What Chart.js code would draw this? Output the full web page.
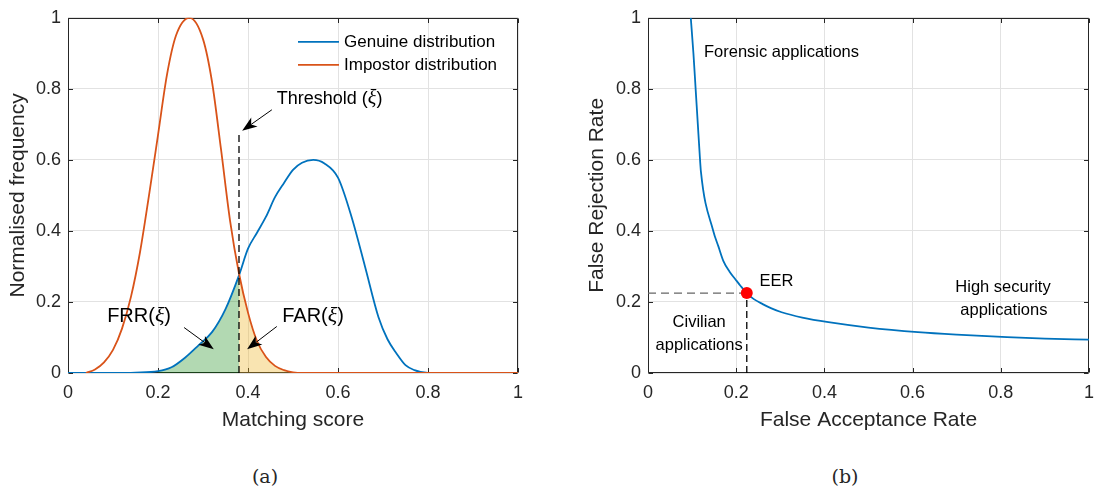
<!DOCTYPE html>
<html>
<head>
<meta charset="utf-8">
<script src="https://cdn.jsdelivr.net/npm/chart.js@4.4.1/dist/chart.umd.min.js"></script>
<style>
  html, body { margin: 0; padding: 0; background: #fff; }
  #page { position: relative; width: 1103px; height: 493px; overflow: hidden; }
  .panel { position: absolute; top: 0; height: 440px; }
  #panel-a { left: 0; width: 560px; }
  #panel-b { left: 560px; width: 543px; }
  .caption { position: absolute; top: 465px; width: 80px; line-height: 22px; text-align: center;
             font-family: "DejaVu Serif", "Liberation Serif", serif; font-size: 19px; color: #262626; }
</style>
</head>
<body>
<div id="page">
  <div class="panel" id="panel-a"><canvas id="chartA"></canvas></div>
  <div class="panel" id="panel-b"><canvas id="chartB"></canvas></div>
  <div class="caption" style="left:225px">(a)</div>
  <div class="caption" style="left:805px">(b)</div>
</div>
<script>
// (a) score distributions
const scoreGenuine = [0, 0.1, 0.15, 0.2, 0.23, 0.26, 0.29, 0.32, 0.35, 0.38, 0.4, 0.42, 0.44, 0.46, 0.48, 0.5, 0.52, 0.545, 0.57, 0.6, 0.63, 0.66, 0.69, 0.71, 0.73, 0.75, 0.77, 0.8, 1];
const freqGenuine = [0, 0, 0.001, 0.005, 0.016, 0.043, 0.078, 0.115, 0.18, 0.275, 0.35, 0.395, 0.44, 0.495, 0.535, 0.572, 0.592, 0.6, 0.59, 0.55, 0.44, 0.3, 0.157, 0.095, 0.055, 0.022, 0.008, 0, 0];
const scoreImpostor = [0.04, 0.06, 0.08, 0.1, 0.12, 0.14, 0.16, 0.18, 0.2, 0.22, 0.24, 0.27, 0.3, 0.32, 0.34, 0.36, 0.38, 0.4, 0.42, 0.44, 0.46, 0.48, 0.5, 0.52, 1];
const freqImpostor = [0, 0.01, 0.03, 0.065, 0.125, 0.215, 0.34, 0.5, 0.67, 0.84, 0.95, 1, 0.94, 0.82, 0.63, 0.43, 0.28, 0.17, 0.09, 0.045, 0.02, 0.008, 0.002, 0, 0];
const threshold = 0.38;
const thresholdTop = 0.672;
const frrStart = 0.2;

// (b) DET curve
const farValues = [0.097, 0.103, 0.108, 0.113, 0.117, 0.12, 0.148, 0.16, 0.171, 0.185, 0.198, 0.21, 0.224, 0.24, 0.26, 0.28, 0.303, 0.35, 0.409, 0.5, 0.612, 0.7, 0.814, 0.9, 1];
const frrValues = [1, 0.9, 0.8, 0.7, 0.62, 0.567, 0.4, 0.355, 0.315, 0.285, 0.264, 0.245, 0.225, 0.208, 0.194, 0.182, 0.171, 0.156, 0.143, 0.128, 0.115, 0.108, 0.101, 0.097, 0.094];
const eerFar = 0.224;
const eerFrr = 0.225;

const axisTicks = [0, 0.2, 0.4, 0.6, 0.8, 1];

const FONT = '"Liberation Sans", Arial, Helvetica, sans-serif';
const MATH_FONT = '"Liberation Serif", "DejaVu Serif", serif';
const INK = '#262626';
const GRID = '#e2e2e2';
const BLUE = '#0072BD';
const ORANGE = '#D95319';

Chart.defaults.font.family = FONT;
Chart.defaults.color = INK;
Chart.defaults.animation = false;

function points(xs, ys) {
  return xs.map((x, i) => ({ x: x, y: ys[i] }));
}

function fmtTick(v) {
  return String(Math.round(v * 10) / 10);
}

function buildScales(xTitle, yTitle, yWidth, yTitlePad) {
  return {
    x: {
      type: 'linear', min: 0, max: 1,
      afterFit: s => { s.height = 60; },
      afterBuildTicks: s => { s.ticks = axisTicks.map(v => ({ value: v })); },
      grid: { color: GRID, drawTicks: false },
      border: { display: false },
      ticks: { padding: 9, font: { size: 18 }, color: INK, callback: fmtTick, maxRotation: 0, autoSkip: false },
      title: { display: true, text: xTitle, font: { size: 21 }, color: INK, padding: { top: 0, bottom: 0 } }
    },
    y: {
      type: 'linear', min: 0, max: 1,
      afterFit: s => { s.width = yWidth; },
      afterBuildTicks: s => { s.ticks = axisTicks.map(v => ({ value: v })); },
      grid: { color: GRID, drawTicks: false },
      border: { display: false },
      ticks: { padding: 7, font: { size: 18 }, color: INK, callback: fmtTick, autoSkip: false },
      title: { display: true, text: yTitle, font: { size: 21 }, color: INK, padding: { top: yTitlePad, bottom: 0 } }
    }
  };
}

function drawFrame(chart) {
  const ctx = chart.ctx;
  const a = chart.chartArea;
  const sx = chart.scales.x, sy = chart.scales.y;
  const l = Math.round(a.left) + 0.5, r = Math.round(a.right) - 0.5;
  const t = Math.round(a.top) + 0.5, b = Math.round(a.bottom) - 0.5;
  ctx.save();
  ctx.strokeStyle = INK;
  ctx.lineWidth = 1;
  ctx.beginPath();
  ctx.rect(l, t, r - l, b - t);
  axisTicks.forEach(v => {
    const px = Math.round(sx.getPixelForValue(v)) + 0.5;
    ctx.moveTo(px, b); ctx.lineTo(px, b - 4.5);
    ctx.moveTo(px, t); ctx.lineTo(px, t + 4.5);
    const py = Math.round(sy.getPixelForValue(v)) + 0.5;
    ctx.moveTo(l, py); ctx.lineTo(l + 4.5, py);
    ctx.moveTo(r, py); ctx.lineTo(r - 4.5, py);
  });
  ctx.stroke();
  ctx.restore();
}

function drawArrow(ctx, x1, y1, x2, y2) {
  const ang = Math.atan2(y2 - y1, x2 - x1);
  const c = Math.cos(ang), s = Math.sin(ang);
  const len = 15, half = 5.5, notch = 11;
  ctx.save();
  ctx.strokeStyle = '#000';
  ctx.fillStyle = '#000';
  ctx.lineWidth = 1;
  ctx.beginPath();
  ctx.moveTo(x1, y1);
  ctx.lineTo(x2 - notch * c, y2 - notch * s);
  ctx.stroke();
  const bx = x2 - len * c, by = y2 - len * s;
  ctx.beginPath();
  ctx.moveTo(x2, y2);
  ctx.lineTo(bx + half * s, by - half * c);
  ctx.lineTo(x2 - notch * c, y2 - notch * s);
  ctx.lineTo(bx - half * s, by + half * c);
  ctx.closePath();
  ctx.fill();
  ctx.restore();
}

function drawRich(ctx, parts, x, y, align, size) {
  ctx.save();
  ctx.fillStyle = '#000';
  ctx.textBaseline = 'middle';
  ctx.textAlign = 'left';
  const fonts = parts.map(p => p[1] ? `italic ${size + 2}px ${MATH_FONT}` : `${size}px ${FONT}`);
  let total = 0;
  const widths = parts.map((p, i) => {
    ctx.font = fonts[i];
    const w = ctx.measureText(p[0]).width;
    total += w;
    return w;
  });
  let cx = align === 'center' ? x - total / 2 : x;
  parts.forEach((p, i) => {
    ctx.font = fonts[i];
    ctx.fillText(p[0], cx, y);
    cx += widths[i];
  });
  ctx.restore();
}

function drawLegend(chart, items) {
  const ctx = chart.ctx;
  const a = chart.chartArea;
  ctx.save();
  items.forEach((idx, row) => {
    const ds = chart.data.datasets[idx];
    const y = a.top + 24 + row * 23;
    ctx.strokeStyle = ds.borderColor;
    ctx.lineWidth = ds.borderWidth;
    ctx.beginPath();
    ctx.moveTo(a.right - 220, y);
    ctx.lineTo(a.right - 179, y);
    ctx.stroke();
    ctx.fillStyle = '#000';
    ctx.font = `17px ${FONT}`;
    ctx.textBaseline = 'middle';
    ctx.fillText(ds.label, a.right - 174, y + 1);
  });
  ctx.restore();
}

function makeNotes(cfg) {
  return {
    id: 'notes',
    beforeDatasetsDraw(chart) {
      drawFrame(chart);
    },
    afterDatasetsDraw(chart) {
      const sx = chart.scales.x, sy = chart.scales.y;
      (cfg.arrows || []).forEach(a => drawArrow(chart.ctx,
        sx.getPixelForValue(a.from[0]), sy.getPixelForValue(a.from[1]),
        sx.getPixelForValue(a.to[0]), sy.getPixelForValue(a.to[1])));
      (cfg.texts || []).forEach(t => drawRich(chart.ctx, t.parts,
        sx.getPixelForValue(t.x), sy.getPixelForValue(t.y), t.align || 'left', t.size));
      if (cfg.legend) drawLegend(chart, cfg.legend);
    }
  };
}

function renderDistributions() {
  const genuine = points(scoreGenuine, freqGenuine);
  const impostor = points(scoreImpostor, freqImpostor);
  const frrArea = genuine.filter(p => p.x >= frrStart && p.x <= threshold);
  const farArea = impostor.filter(p => p.x >= threshold);

  new Chart(document.getElementById('chartA'), {
    type: 'line',
    data: {
      datasets: [
        { label: 'Genuine distribution', data: genuine, borderColor: BLUE, borderWidth: 1.8, order: 3 },
        { label: 'Impostor distribution', data: impostor, borderColor: ORANGE, borderWidth: 1.8, order: 2 },
        { label: 'FRR', data: frrArea, borderWidth: 0, backgroundColor: 'rgba(0,128,0,0.3)', fill: 'origin', order: 5 },
        { label: 'FAR', data: farArea, borderWidth: 0, backgroundColor: 'rgba(237,177,32,0.35)', fill: 'origin', order: 5 },
        { label: 'Threshold', data: [{ x: threshold, y: 0 }, { x: threshold, y: thresholdTop }],
          borderColor: '#000', borderWidth: 1.3, borderDash: [7, 4], cubicInterpolationMode: 'default', tension: 0, order: 1 }
      ]
    },
    options: {
      responsive: true,
      maintainAspectRatio: false,
      events: [],
      layout: { padding: { left: 0, top: 14, right: 42, bottom: 7 } },
      elements: { point: { radius: 0 }, line: { cubicInterpolationMode: 'monotone', fill: false } },
      plugins: { legend: { display: false }, tooltip: { enabled: false } },
      scales: buildScales('Matching score', 'Normalised frequency', 68, 6)
    },
    plugins: [makeNotes({
      legend: [0, 1],
      texts: [
        { x: 0.464, y: 0.772, size: 18, parts: [['Threshold (', 0], ['ξ', 1], [')', 0]] },
        { x: 0.087, y: 0.159, size: 20, parts: [['FRR(', 0], ['ξ', 1], [')', 0]] },
        { x: 0.476, y: 0.159, size: 20, parts: [['FAR(', 0], ['ξ', 1], [')', 0]] }
      ],
      arrows: [
        { from: [0.453, 0.741], to: [0.387, 0.682] },
        { from: [0.258, 0.128], to: [0.324, 0.067] },
        { from: [0.464, 0.131], to: [0.398, 0.067] }
      ]
    })]
  });
}

function renderDet() {
  new Chart(document.getElementById('chartB'), {
    type: 'line',
    data: {
      datasets: [
        { label: 'DET', data: points(farValues, frrValues), borderColor: BLUE, borderWidth: 1.8,
          cubicInterpolationMode: 'monotone', order: 3 },
        { label: 'EER level', data: [{ x: 0, y: eerFrr }, { x: eerFar, y: eerFrr }],
          borderColor: '#666', borderWidth: 1.3, borderDash: [8, 5], order: 2 },
        { label: 'EER drop', data: [{ x: eerFar, y: 0 }, { x: eerFar, y: eerFrr }],
          borderColor: '#000', borderWidth: 1.3, borderDash: [7, 4], order: 2 },
        { label: 'EER', data: [{ x: eerFar, y: eerFrr }], showLine: false,
          pointRadius: 6, pointBackgroundColor: '#ff0000', pointBorderWidth: 0, order: 0 }
      ]
    },
    options: {
      responsive: true,
      maintainAspectRatio: false,
      events: [],
      layout: { padding: { left: 0, top: 14, right: 5, bottom: 7 } },
      elements: { point: { radius: 0 }, line: { fill: false } },
      plugins: { legend: { display: false }, tooltip: { enabled: false } },
      scales: buildScales('False Acceptance Rate', 'False Rejection Rate', 88, 25)
    },
    plugins: [makeNotes({
      texts: [
        { x: 0.127, y: 0.902, size: 16.5, parts: [['Forensic applications', 0]] },
        { x: 0.253, y: 0.259, size: 16.5, parts: [['EER', 0]] },
        { x: 0.805, y: 0.24, size: 16.5, align: 'center', parts: [['High security', 0]] },
        { x: 0.807, y: 0.177, size: 16.5, align: 'center', parts: [['applications', 0]] },
        { x: 0.116, y: 0.143, size: 16.5, align: 'center', parts: [['Civilian', 0]] },
        { x: 0.116, y: 0.078, size: 16.5, align: 'center', parts: [['applications', 0]] }
      ]
    })]
  });
}

renderDistributions();
renderDet();
</script>
</body>
</html>
